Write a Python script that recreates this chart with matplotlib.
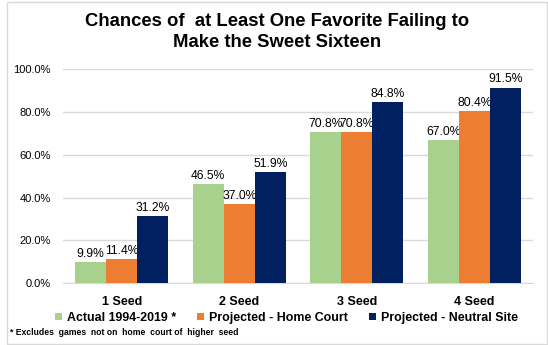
import matplotlib.pyplot as plt
from matplotlib.patches import Rectangle
import numpy as np

plt.rcParams['font.family'] = ['Liberation Sans', 'DejaVu Sans']

seeds = ['1 Seed', '2 Seed', '3 Seed', '4 Seed']
actual = [9.9, 46.5, 70.8, 67.0]
home = [11.4, 37.0, 70.8, 80.4]
neutral = [31.2, 51.9, 84.8, 91.5]
series_names = ['Actual 1994-2019 *', 'Projected - Home Court', 'Projected - Neutral Site']
colors = ['#A9D18E', '#ED7D31', '#002060']
yticks = [0, 20, 40, 60, 80, 100]

fig = plt.figure(figsize=(5.48, 3.45), dpi=100)
ax = fig.add_axes([0.115, 0.1797, 0.8576, 0.6189])

x = np.arange(len(seeds))
w = 0.264
for i, (vals, c, name) in enumerate(zip([actual, home, neutral], colors, series_names)):
    bars = ax.bar(x + (i - 1) * w, vals, w, color=c, label=name, zorder=3)
    for b, v in zip(bars, vals):
        ax.text(b.get_x() + b.get_width() / 2, v + 1.0, '%.1f%%' % v,
                ha='center', va='bottom', fontsize=8.7, color='black')

ax.set_xlim(-0.5, 3.5)
ax.set_ylim(0, 100)
ax.set_yticks(yticks)
ax.set_yticklabels(['%.1f%%' % t for t in yticks], fontsize=8)
ax.set_xticks(x)
ax.set_xticklabels(seeds, fontsize=9, fontweight='bold')
ax.yaxis.grid(True, color='#D9D9D9', linewidth=1, zorder=0)
ax.tick_params(length=0)
ax.tick_params(axis='x', pad=9)
ax.tick_params(axis='y', pad=9)
for s in ['top', 'right', 'left']:
    ax.spines[s].set_visible(False)
ax.spines['bottom'].set_color('#D9D9D9')

fig.text(0.506, 0.907, 'Chances of  at Least One Favorite Failing to\nMake the Sweet Sixteen',
         ha='center', va='center', fontsize=13.3, fontweight='bold', linespacing=1.3)

leg = fig.legend(loc='center', bbox_to_anchor=(0.523, 0.078), ncol=3, frameon=False,
                 prop={'size': 8.9, 'weight': 'bold'}, handlelength=0.55, handleheight=0.55,
                 handletextpad=0.4, columnspacing=1.7)

fig.text(0.018, 0.035, '* Excludes  games  not on  home  court of  higher  seed',
         fontsize=6.2, fontweight='bold', va='center', ha='left')

fig.patches.append(Rectangle((7 / 548, 1 / 345), 540 / 548, 342 / 345,
                             transform=fig.transFigure, fill=False,
                             edgecolor='#D9D9D9', linewidth=1))

fig.savefig('out.png', dpi=100)
